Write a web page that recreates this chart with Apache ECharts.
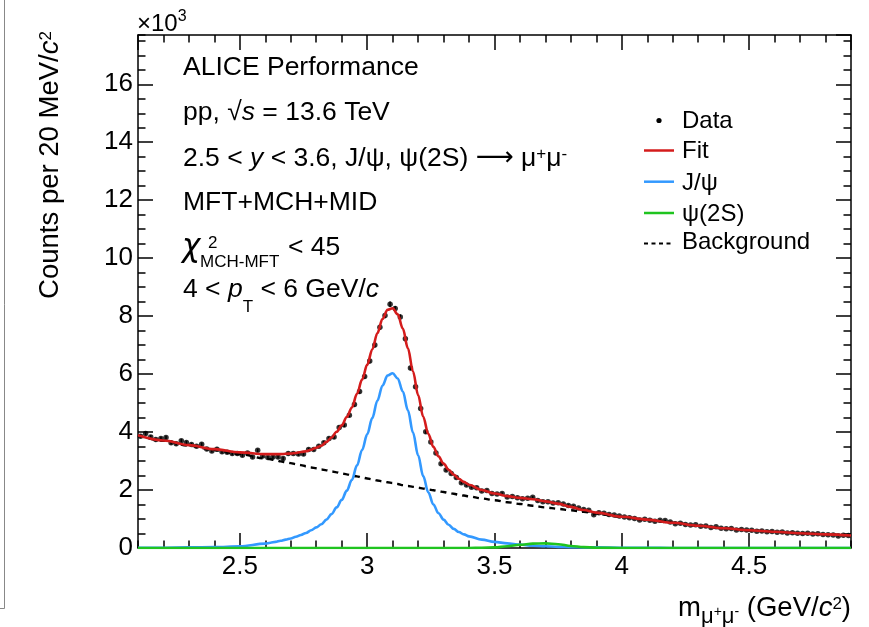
<!DOCTYPE html>
<html>
<head>
<meta charset="utf-8">
<script src="https://cdn.jsdelivr.net/npm/echarts@6/dist/echarts.min.js"></script>
<style>
  html, body { margin: 0; padding: 0; background: #fff; }
  #chart { width: 869px; height: 627px; }
</style>
</head>
<body>
<div id="chart"></div>
<script>
// Dimuon invariant-mass histogram: 20 MeV/c^2 bins from 2.1 to 4.9 GeV/c^2
const binLow = 2.1;
const binWidth = 0.02;

// Counts per bin, in units of 10^3
const counts = [
  3.86, 3.95, 3.83, 3.74, 3.78, 3.81, 3.63, 3.60, 3.70, 3.64,
  3.57, 3.51, 3.58, 3.42, 3.35, 3.41, 3.32, 3.30, 3.26, 3.26,
  3.20, 3.28, 3.14, 3.37, 3.17, 3.12, 3.14, 3.14, 3.09, 3.26,
  3.26, 3.24, 3.24, 3.40, 3.40, 3.51, 3.63, 3.78, 3.83, 4.16,
  4.24, 4.58, 4.95, 5.40, 5.92, 6.45, 7.00, 7.62, 8.02, 8.41,
  8.26, 7.97, 7.22, 6.21, 5.56, 4.81, 4.01, 3.66, 3.28, 2.91,
  2.69, 2.57, 2.43, 2.25, 2.17, 2.10, 2.08, 1.97, 1.98, 1.88,
  1.86, 1.88, 1.76, 1.78, 1.73, 1.70, 1.72, 1.75, 1.64, 1.60,
  1.60, 1.55, 1.56, 1.52, 1.47, 1.44, 1.38, 1.33, 1.30, 1.15,
  1.22, 1.20, 1.16, 1.14, 1.10, 1.07, 1.04, 1.02, 0.97, 0.99,
  0.96, 0.92, 0.96, 0.95, 0.90, 0.84, 0.85, 0.81, 0.79, 0.80,
  0.75, 0.76, 0.71, 0.73, 0.68, 0.66, 0.67, 0.62, 0.64, 0.62,
  0.61, 0.58, 0.59, 0.56, 0.57, 0.54, 0.55, 0.52, 0.53, 0.51,
  0.50, 0.51, 0.48, 0.49, 0.47, 0.46, 0.45, 0.41, 0.44, 0.43
];

// Fit model and its components, sampled along the mass axis (units of 10^3)
const curveMass = [
  2.10, 2.20, 2.30, 2.40, 2.50,
  2.60, 2.62, 2.64, 2.66, 2.68, 2.70, 2.72, 2.74, 2.76, 2.78,
  2.80, 2.82, 2.84, 2.86, 2.88, 2.90, 2.92, 2.94, 2.96, 2.98,
  3.00, 3.02, 3.04, 3.06, 3.08, 3.10, 3.12, 3.14, 3.16, 3.18,
  3.20, 3.22, 3.24, 3.26, 3.28, 3.30, 3.32, 3.34, 3.36, 3.38,
  3.40, 3.45, 3.50, 3.55, 3.60, 3.65, 3.70, 3.75, 3.80, 3.85,
  3.90, 4.00, 4.10, 4.20, 4.30, 4.40, 4.50, 4.60, 4.70, 4.80,
  4.90
];
const fitCurve = [
  3.89, 3.71, 3.55, 3.41, 3.30,
  3.24, 3.24, 3.24, 3.24, 3.25, 3.26, 3.28, 3.31, 3.34, 3.39,
  3.46, 3.53, 3.66, 3.81, 4.01, 4.23, 4.52, 4.85, 5.32, 5.81,
  6.32, 6.85, 7.41, 7.90, 8.22, 8.27, 8.06, 7.57, 6.89, 6.09,
  5.28, 4.53, 3.94, 3.49, 3.16, 2.91, 2.70, 2.53, 2.39, 2.28,
  2.18, 2.00, 1.88, 1.79, 1.73, 1.68, 1.61, 1.53, 1.42, 1.31,
  1.22, 1.08, 0.98, 0.87, 0.77, 0.68, 0.61, 0.56, 0.51, 0.47,
  0.43
];
const jpsiCurve = [
  0.01, 0.01, 0.02, 0.03, 0.06,
  0.15, 0.18, 0.21, 0.25, 0.29, 0.33, 0.39, 0.45, 0.52, 0.61,
  0.71, 0.82, 0.98, 1.17, 1.40, 1.66, 1.98, 2.35, 2.85, 3.38,
  3.92, 4.48, 5.08, 5.60, 5.95, 6.03, 5.85, 5.40, 4.75, 3.98,
  3.20, 2.48, 1.92, 1.50, 1.20, 0.98, 0.80, 0.66, 0.55, 0.47,
  0.40, 0.29, 0.21, 0.16, 0.12, 0.08, 0.06, 0.04, 0.03, 0.02,
  0.02, 0.01, 0.01, 0.00, 0.00, 0.00, 0.00, 0.00, 0.00, 0.00,
  0.00
];
const psi2sCurve = [
  0.00, 0.00, 0.00, 0.00, 0.00,
  0.00, 0.00, 0.00, 0.00, 0.00, 0.00, 0.00, 0.00, 0.00, 0.00,
  0.00, 0.00, 0.00, 0.00, 0.00, 0.00, 0.00, 0.00, 0.00, 0.00,
  0.00, 0.00, 0.00, 0.00, 0.00, 0.00, 0.00, 0.00, 0.00, 0.00,
  0.00, 0.00, 0.00, 0.00, 0.00, 0.00, 0.00, 0.00, 0.00, 0.00,
  0.00, 0.01, 0.02, 0.06, 0.11, 0.15, 0.16, 0.13, 0.07, 0.03,
  0.01, 0.00, 0.00, 0.00, 0.00, 0.00, 0.00, 0.00, 0.00, 0.00,
  0.00
];
const bkgCurve = [
  3.88, 3.70, 3.53, 3.38, 3.24,
  3.09, 3.06, 3.03, 2.99, 2.96, 2.93, 2.89, 2.86, 2.82, 2.78,
  2.75, 2.71, 2.68, 2.64, 2.61, 2.57, 2.54, 2.50, 2.47, 2.43,
  2.40, 2.37, 2.33, 2.30, 2.27, 2.24, 2.21, 2.17, 2.14, 2.11,
  2.08, 2.05, 2.02, 1.99, 1.96, 1.93, 1.90, 1.87, 1.84, 1.81,
  1.78, 1.71, 1.65, 1.58, 1.52, 1.46, 1.40, 1.35, 1.30, 1.25,
  1.19, 1.07, 0.97, 0.87, 0.77, 0.68, 0.61, 0.56, 0.51, 0.47,
  0.43
];

const legendNames = ['Data', 'Fit', 'J/ψ', 'ψ(2S)', 'Background'];
const colors = { data: '#000000', fit: '#d41c1c', jpsi: '#3399ff', psi2s: '#1fc41f', bkg: '#000000' };

const FONT = '"Liberation Sans", Arial, Helvetica, sans-serif';

const massCentres = counts.map((_, i) => +(binLow + binWidth * (i + 0.5)).toFixed(3));
const dataPoints = counts.map((c, i) => [massCentres[i], c]);
const errorBars = counts.map((c, i) => [massCentres[i], c, Math.sqrt(c * 1000) / 1000]);
const curve = arr => curveMass.map((m, i) => [m, arr[i]]);

// Rich-text helpers: a token whose baseline sits `baseShift` px below the main baseline
function scriptStyle(mainSize, size, baseShift, italic) {
  const dy = 0.3465 * (mainSize - size) + baseShift;
  const pad = Math.abs(2 * dy);
  return {
    fontSize: size, fontFamily: FONT, fontStyle: italic ? 'italic' : 'normal',
    lineHeight: size + 2, padding: dy < 0 ? [0, 0, pad, 0] : [pad, 0, 0, 0]
  };
}
function baseStyle(size, italic) {
  return { fontSize: size, fontFamily: FONT, fontStyle: italic ? 'italic' : 'normal', lineHeight: size + 4 };
}
const M = 26.5;
const rich = {
  n: baseStyle(M), i: baseStyle(M, true),
  arrow: { fontSize: M, fontFamily: '"DejaVu Sans", sans-serif', lineHeight: M + 4 },
  sup: scriptStyle(M, 16, -7),
  lsup: scriptStyle(M, 17, -7),
  sub: scriptStyle(M, 17, 15),
  t: baseStyle(27.5), ti: baseStyle(27.5, true),
  tsup: scriptStyle(27.5, 17, -7),
  msub: scriptStyle(27.5, 22, 7),
  msubsup: scriptStyle(27.5, 14, -1),
  s24: baseStyle(24), sup24: scriptStyle(24, 16, -10)
};

function label(x, y, text, align, extra) {
  return Object.assign({
    type: 'text', x: x, y: y, silent: true,
    style: { text: text, rich: rich, fill: '#000', align: align || 'left', verticalAlign: 'middle', fontFamily: FONT, fontSize: M }
  }, extra || {});
}
function plain(x, y, text, size, italic, family) {
  return {
    type: 'text', x: x, y: y, silent: true,
    style: { text: text, fill: '#000', align: 'left', verticalAlign: 'middle', fontFamily: family || FONT, fontSize: size, fontStyle: italic ? 'italic' : 'normal' }
  };
}

const graphics = [
  // text block
  label(183, 67.5, '{n|ALICE Performance}'),
  label(183, 112.5, '{n|pp, √}{i|s}{n| = 13.6 TeV}'),
  label(183, 158.5, '{n|2.5 < }{i|y}{n| < 3.6, J/ψ, ψ(2S) }{arrow|⟶}{n| μ}{lsup|+}{n|μ}{lsup|-}'),
  label(183, 202.5, '{n|MFT+MCH+MID}'),
  plain(182, 248, 'χ', 31, true, '"DejaVu Sans", sans-serif'),
  plain(208, 243, '2', 17, false),
  plain(200, 262, 'MCH-MFT', 17, false),
  plain(288, 247.5, '< 45', M, false),
  label(183, 289.5, '{n|4 < }{i|p}{sub|T}{n| < 6 GeV/}{i|c}'),
  // multiplier above the y axis
  label(137, 24, '{s24|×10}{sup24|3}'),
  // axis titles
  label(50, 165, '{t|Counts per 20 MeV/}{ti|c}{tsup|2}', 'center', { rotation: Math.PI / 2 }),
  label(851, 608, '{t|m}{msub|μ}{msubsup|+}{msub|μ}{msubsup|-}{t| (GeV/}{ti|c}{tsup|2}{t|)}', 'right'),
  // legend
  { type: 'circle', silent: true, shape: { cx: 659, cy: 120.5, r: 2.6 }, style: { fill: colors.data } },
  { type: 'line', silent: true, shape: { x1: 644, y1: 150.5, x2: 674, y2: 150.5 }, style: { stroke: colors.fit, lineWidth: 2.5 } },
  { type: 'line', silent: true, shape: { x1: 644, y1: 181.7, x2: 674, y2: 181.7 }, style: { stroke: colors.jpsi, lineWidth: 2.5 } },
  { type: 'line', silent: true, shape: { x1: 644, y1: 213, x2: 674, y2: 213 }, style: { stroke: colors.psi2s, lineWidth: 2.5 } },
  { type: 'line', silent: true, shape: { x1: 644, y1: 243.5, x2: 674, y2: 243.5 }, style: { stroke: colors.bkg, lineWidth: 2, lineDash: [4, 3.5] } },
  plain(682, 121, legendNames[0], 24),
  plain(682, 151.5, legendNames[1], 24),
  plain(682, 183, legendNames[2], 24),
  plain(682, 214, legendNames[3], 24),
  plain(682, 242.5, legendNames[4], 24),
  // page edge rule
  { type: 'polyline', silent: true, shape: { points: [[4.5, 0], [4.5, 608.5], [0, 608.5]] }, style: { stroke: '#888', lineWidth: 1, fill: null } }
];

const tickStyle = { color: '#000', width: 1.5 };
function xAxisDef(position, major) {
  return {
    type: 'value', position: position, min: 2.1, max: 4.9,
    minInterval: major ? 0.5 : 0.1, maxInterval: major ? 0.5 : 0.1,
    axisLine: { show: major, onZero: false, lineStyle: { color: '#000', width: 1.5 } },
    axisTick: { show: true, inside: true, length: major ? 15 : 7.5, lineStyle: tickStyle },
    axisLabel: {
      show: major && position === 'bottom', showMinLabel: false, showMaxLabel: false,
      color: '#000', fontFamily: FONT, fontSize: 26, lineHeight: 26, margin: 6
    },
    splitLine: { show: false }
  };
}
function yAxisDef(position, major) {
  return {
    type: 'value', position: position, min: 0, max: 17.7,
    interval: major ? 2 : 0.5,
    axisLine: { show: major, onZero: false, lineStyle: { color: '#000', width: 1.5 } },
    axisTick: { show: true, inside: true, length: major ? 15 : 7.5, lineStyle: tickStyle },
    axisLabel: {
      show: major && position === 'left', showMaxLabel: false,
      color: '#000', fontFamily: FONT, fontSize: 26, margin: 5
    },
    splitLine: { show: false }
  };
}

const lineSeries = (name, arr, color, extra) => Object.assign({
  name: name, type: 'line', data: curve(arr), xAxisIndex: 0, yAxisIndex: 0,
  smooth: 0.35, smoothMonotone: 'x', showSymbol: false, symbol: 'none', silent: true,
  lineStyle: { color: color, width: 2.6 }, clip: true
}, extra || {});

const chart = echarts.init(document.getElementById('chart'), null, { renderer: 'canvas' });
chart.setOption({
  animation: false,
  backgroundColor: '#fff',
  grid: { left: 138, right: 18, top: 35, bottom: 79, containLabel: false },
  xAxis: [xAxisDef('bottom', true), xAxisDef('bottom', false), xAxisDef('top', true), xAxisDef('top', false)],
  yAxis: [yAxisDef('left', true), yAxisDef('left', false), yAxisDef('right', true), yAxisDef('right', false)],
  series: [
    lineSeries(legendNames[4], bkgCurve, colors.bkg, { lineStyle: { color: colors.bkg, width: 2.4, type: [6, 5] } }),
    lineSeries(legendNames[2], jpsiCurve, colors.jpsi),
    lineSeries(legendNames[3], psi2sCurve, colors.psi2s),
    lineSeries(legendNames[1], fitCurve, colors.fit),
    {
      name: 'errors', type: 'custom', xAxisIndex: 0, yAxisIndex: 0, silent: true,
      data: errorBars,
      renderItem: function (params, api) {
        const x = api.value(0), y = api.value(1), e = api.value(2);
        const hi = api.coord([x, y + e]);
        const lo = api.coord([x, y - e]);
        return { type: 'line', shape: { x1: hi[0], y1: hi[1], x2: lo[0], y2: lo[1] }, style: { stroke: '#000', lineWidth: 1.5 } };
      }
    },
    {
      name: legendNames[0], type: 'scatter', xAxisIndex: 0, yAxisIndex: 0, silent: true,
      data: dataPoints, symbol: 'circle', symbolSize: 5.5,
      itemStyle: { color: colors.data }
    }
  ],
  graphic: graphics
});
</script>
</body>
</html>
